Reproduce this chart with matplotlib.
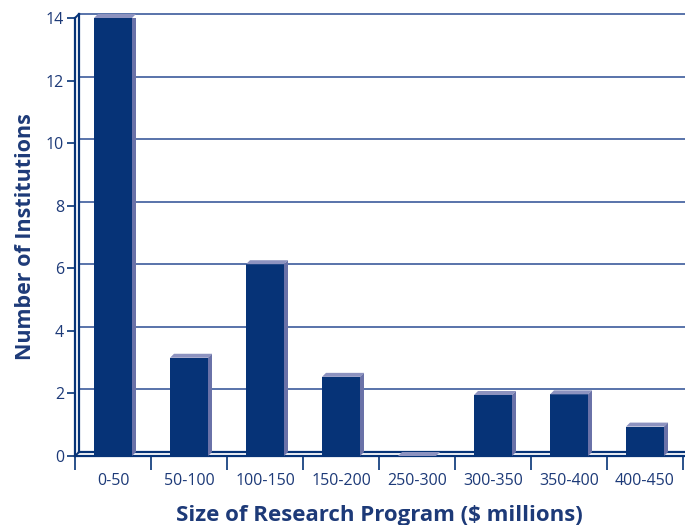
import matplotlib.pyplot as plt
import matplotlib.transforms as mtransforms
from matplotlib.patches import Polygon

categories = ['0-50', '50-100', '100-150', '150-200', '250-300',
              '300-350', '350-400', '400-450']
institutions = [14, 3.14, 6.13, 2.53, 0, 1.95, 1.97, 0.94]
y_ticks = [0, 2, 4, 6, 8, 10, 12, 14]

navy = '#063377'
cap_color = '#8d93c0'
side_color = '#6a72a8'
grid_color = '#3c5b9c'
text_color = '#1d3a78'

plt.rcParams['font.family'] = ['Open Sans', 'DejaVu Sans']

fig = plt.figure(figsize=(6.85, 5.25), dpi=100)
ax = fig.add_axes([75 / 685, 1 - 456 / 525, 608 / 685, 438 / 525])
ax.set_xlim(0, len(categories))
ax.set_ylim(0, 14)

# offset for the back wall of the 3d look
depth = 4
back = mtransforms.offset_copy(ax.transData, fig=fig, x=depth, y=depth, units='dots')
dx = depth / 76
dy = depth / (438 / 14)

# back wall gridlines and frame
for t in y_ticks[1:]:
    ax.plot([0, len(categories) + 0.2], [t, t], color=grid_color, lw=1.2,
            transform=back, clip_on=False, zorder=1)
ax.plot([0, 0], [0, 14], color=navy, lw=1.6, transform=back, clip_on=False, zorder=1)
ax.plot([0, len(categories) + 0.2], [0, 0], color=navy, lw=1.6, transform=back,
        clip_on=False, zorder=1)
# corners connecting front and back
ax.plot([0, dx], [14, 14 + dy], color=navy, lw=1.4, clip_on=False, zorder=1)
ax.plot([0, dx], [0, dy], color=navy, lw=1.4, clip_on=False, zorder=1)
ax.plot([0, 0], [0, 14], color=navy, lw=1.6, clip_on=False, zorder=1)
ax.plot([0, len(categories) + 0.2], [0, 0], color=navy, lw=1.6, clip_on=False, zorder=1)

# bars
centers = [i + 0.5 for i in range(len(categories))]
width = 0.5
ax.bar(centers, institutions, width=width, color=navy, zorder=3)
for c, v in zip(centers, institutions):
    x0, x1 = c - width / 2, c + width / 2
    cap = Polygon([(x0, v), (x1, v), (x1 + dx, v + dy), (x0 + dx, v + dy)],
                  closed=True, facecolor=cap_color, edgecolor='none', zorder=4,
                  clip_on=False)
    ax.add_patch(cap)
    if v > 0:
        side = Polygon([(x1, 0), (x1 + dx, dy), (x1 + dx, v + dy), (x1, v)],
                       closed=True, facecolor=side_color, edgecolor='none', zorder=4)
        ax.add_patch(side)

for s in ax.spines.values():
    s.set_visible(False)

ax.set_yticks(y_ticks)
ax.set_yticklabels([str(t) for t in y_ticks])
ax.set_xticks(range(len(categories) + 1))
ax.set_xticklabels([])
ax.set_xticks(centers, minor=True)
ax.set_xticklabels(categories, minor=True)
ax.tick_params(axis='y', colors=navy, labelcolor=text_color, labelsize=11.5,
               length=6, width=1.2, direction='out', pad=2)
ax.tick_params(axis='x', which='major', colors=navy, length=10, width=1.2,
               direction='out')
ax.tick_params(axis='x', which='minor', length=0, labelcolor=text_color,
               labelsize=11.5, pad=12)

ax.set_xlabel('Size of Research Program ($ millions)', fontsize=16,
              fontweight='bold', color=text_color, labelpad=12)
ax.set_ylabel('Number of Institutions', fontsize=15.5, fontweight='bold',
              color=text_color, labelpad=7)

fig.savefig('out.png', dpi=100)
